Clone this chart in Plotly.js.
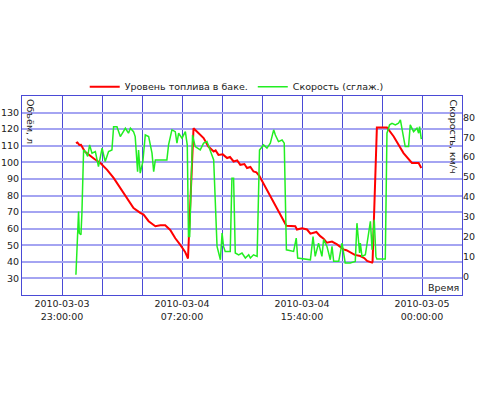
<!DOCTYPE html>
<html>
<head>
<meta charset="utf-8">
<script src="https://cdn.plot.ly/plotly-3.0.1.min.js"></script>
<style>html,body{margin:0;padding:0;background:#fff;}#chart{width:480px;height:400px;}</style>
</head>
<body>
<div id="chart"></div>
<script>
var fuelTime = [
'2010-03-03 23:58','2010-03-04 00:04','2010-03-04 00:12','2010-03-04 00:19','2010-03-04 00:35','2010-03-04 00:51',
'2010-03-04 01:15','2010-03-04 01:40','2010-03-04 02:08','2010-03-04 02:35','2010-03-04 03:03','2010-03-04 03:31',
'2010-03-04 03:58','2010-03-04 04:26','2010-03-04 04:40','2010-03-04 05:01','2010-03-04 05:29','2010-03-04 05:50',
'2010-03-04 06:10','2010-03-04 06:31','2010-03-04 06:52','2010-03-04 07:13','2010-03-04 07:27','2010-03-04 07:33',
'2010-03-04 07:45','2010-03-04 08:08','2010-03-04 08:50','2010-03-04 09:10','2010-03-04 09:32','2010-03-04 09:40',
'2010-03-04 09:52','2010-03-04 10:10','2010-03-04 10:28','2010-03-04 10:40','2010-03-04 10:55','2010-03-04 11:10',
'2010-03-04 11:23','2010-03-04 11:40','2010-03-04 11:51','2010-03-04 12:05','2010-03-04 12:18','2010-03-04 12:30',
'2010-03-04 12:42','2010-03-04 13:28','2010-03-04 14:02','2010-03-04 14:35','2010-03-04 15:12','2010-03-04 15:19',
'2010-03-04 15:40','2010-03-04 16:01','2010-03-04 16:15','2010-03-04 16:28','2010-03-04 16:40','2010-03-04 16:56',
'2010-03-04 17:10','2010-03-04 17:24','2010-03-04 17:45','2010-03-04 18:06','2010-03-04 18:20','2010-03-04 18:33',
'2010-03-04 18:45','2010-03-04 19:01','2010-03-04 19:20','2010-03-04 19:43','2010-03-04 20:00','2010-03-04 20:11',
'2010-03-04 20:32','2010-03-04 20:34','2010-03-04 20:52','2010-03-04 21:34','2010-03-04 22:02','2010-03-04 22:43',
'2010-03-04 23:00','2010-03-04 23:18','2010-03-04 23:46','2010-03-04 23:57'
];
var fuelLevel = [
111.6,112.0,110.5,110.6,106.5,104.6,
102.0,99.6,95.5,90.6,84.5,78.5,
72.5,69.5,68.5,64.5,61.5,62.0,
62.0,59.2,54.2,50.2,47.2,46.0,
42.0,120.6,114.6,109.5,106.5,107.2,
104.5,104.8,102.6,103.2,100.5,101.2,
98.5,99.0,96.6,97.2,94.5,94.0,
91.9,79.5,70.4,61.8,61.5,59.5,
60.2,59.5,57.0,57.5,58.0,55.5,
54.0,51.5,52.2,50.5,49.0,47.5,
47.0,45.5,44.2,43.5,42.2,40.5,
39.5,40.0,121.0,121.0,115.6,105.6,
102.5,99.6,99.6,96.6
];
var speedTime = [
'2010-03-03 23:58','2010-03-04 00:02','2010-03-04 00:09','2010-03-04 00:12','2010-03-04 00:19','2010-03-04 00:23',
'2010-03-04 00:30','2010-03-04 00:37','2010-03-04 00:47','2010-03-04 00:55','2010-03-04 01:05','2010-03-04 01:19',
'2010-03-04 01:32','2010-03-04 01:47','2010-03-04 02:00','2010-03-04 02:14','2010-03-04 02:28','2010-03-04 02:35',
'2010-03-04 02:49','2010-03-04 03:03','2010-03-04 03:24','2010-03-04 03:37','2010-03-04 03:45','2010-03-04 03:58',
'2010-03-04 04:05','2010-03-04 04:15','2010-03-04 04:19','2010-03-04 04:26','2010-03-04 04:37','2010-03-04 04:47',
'2010-03-04 05:01','2010-03-04 05:15','2010-03-04 05:22','2010-03-04 05:29','2010-03-04 05:50','2010-03-04 06:17',
'2010-03-04 06:24','2010-03-04 06:38','2010-03-04 06:52','2010-03-04 06:59','2010-03-04 07:06','2010-03-04 07:20',
'2010-03-04 07:34','2010-03-04 07:42','2010-03-04 07:47','2010-03-04 07:52','2010-03-04 08:04','2010-03-04 08:15',
'2010-03-04 08:36','2010-03-04 08:50','2010-03-04 09:04','2010-03-04 09:18','2010-03-04 09:32','2010-03-04 09:46',
'2010-03-04 10:00','2010-03-04 10:07','2010-03-04 10:13','2010-03-04 10:20','2010-03-04 10:41','2010-03-04 10:48',
'2010-03-04 10:55','2010-03-04 11:02','2010-03-04 11:16','2010-03-04 11:30','2010-03-04 11:44','2010-03-04 11:58',
'2010-03-04 12:05','2010-03-04 12:18','2010-03-04 12:33','2010-03-04 12:43','2010-03-04 13:00','2010-03-04 13:14',
'2010-03-04 13:28','2010-03-04 13:42','2010-03-04 13:49','2010-03-04 14:02','2010-03-04 14:17','2010-03-04 14:26',
'2010-03-04 14:35','2010-03-04 15:05','2010-03-04 15:16','2010-03-04 15:22','2010-03-04 15:47','2010-03-04 16:15',
'2010-03-04 16:26','2010-03-04 16:35','2010-03-04 16:49','2010-03-04 17:03','2010-03-04 17:10','2010-03-04 17:24',
'2010-03-04 17:38','2010-03-04 17:45','2010-03-04 17:52','2010-03-04 18:13','2010-03-04 18:27','2010-03-04 18:40',
'2010-03-04 19:01','2010-03-04 19:22','2010-03-04 19:29','2010-03-04 19:40','2010-03-04 19:43','2010-03-04 19:50',
'2010-03-04 20:04','2010-03-04 20:13','2010-03-04 20:25','2010-03-04 20:32','2010-03-04 20:41','2010-03-04 20:48',
'2010-03-04 20:52','2010-03-04 21:27','2010-03-04 21:34','2010-03-04 21:45','2010-03-04 21:55','2010-03-04 22:09',
'2010-03-04 22:22','2010-03-04 22:30','2010-03-04 22:37','2010-03-04 22:50','2010-03-04 23:04','2010-03-04 23:11',
'2010-03-04 23:25','2010-03-04 23:39','2010-03-04 23:46','2010-03-04 23:50','2010-03-04 23:57'
];
var speedValue = [
0.9,10,32.7,21.8,21,31.9,
63.6,62.8,60.3,66.1,62,62.8,
55.2,64.5,57.8,62.8,63.6,75.3,
75.3,70.3,74.5,72,74.5,72.8,
70.3,52.7,63.6,51.9,57.8,71.1,
70.3,62,52.7,58.6,58.6,58.6,
66.1,73.7,72.8,67,72,69.5,
72.8,66,20.1,20.1,71.1,65.3,
63.6,67,67.8,63.6,58.6,15.1,
8.4,21.8,15.1,12.6,12.6,49.4,
49.4,11.8,10.9,11.8,9.3,10.9,
9.3,10.9,10.1,63.6,66.1,64.5,
67,73.7,71.1,67.8,68.6,67,
13.4,12.6,19.3,9.3,8.8,8.4,
20.1,10.1,16.8,10.1,18.5,15.1,
8.4,15.1,7.6,7.6,16.8,6.8,
6.8,7.6,26.8,11.8,16.8,10.1,
10.9,18.5,27.7,13.4,28.5,10.1,
8.8,8.8,72,76.2,77,76.2,
77,78.7,73.7,65.3,65.3,76.2,
72.8,74.5,72,75.3,69
];
var gridTimes = [
'2010-03-03 20:13:20','2010-03-03 23:00:00','2010-03-04 01:46:40','2010-03-04 04:33:20',
'2010-03-04 07:20:00','2010-03-04 10:06:40','2010-03-04 12:53:20','2010-03-04 15:40:00',
'2010-03-04 18:26:40','2010-03-04 21:13:20','2010-03-05 00:00:00','2010-03-05 02:46:40'
];
var gridLabels = ['', '2010-03-03<br>23:00:00', '', '', '2010-03-04<br>07:20:00', '', '',
'2010-03-04<br>15:40:00', '', '', '2010-03-05<br>00:00:00', ''];
var fuelTicks = [30,40,50,60,70,80,90,100,110,120,130];
var speedTicks = [0,10,20,30,40,50,60,70,80];

var font = {family: 'DejaVu Sans, sans-serif', size: 9.5, color: '#222'};
var traces = [
  {x: fuelTime, y: fuelLevel, type: 'scatter', mode: 'lines', name: 'Уровень топлива в баке.',
   line: {color: '#ff0000', width: 2}, yaxis: 'y'},
  {x: speedTime, y: speedValue, type: 'scatter', mode: 'lines', name: 'Скорость (сглаж.)',
   line: {color: '#22ee22', width: 1.5}, yaxis: 'y2'}
];
var layout = {
  width: 480, height: 400,
  margin: {l: 22, r: 18, t: 96, b: 105, pad: 0},
  paper_bgcolor: '#fff', plot_bgcolor: '#fff',
  font: font,
  showlegend: true,
  legend: {orientation: 'h', x: 0.488, xanchor: 'center', y: 1.047, yanchor: 'middle',
           font: font, bgcolor: 'rgba(0,0,0,0)'},
  xaxis: {type: 'date', range: ['2010-03-03 20:13:20', '2010-03-05 02:46:40'],
          tickmode: 'array', tickvals: gridTimes, ticktext: gridLabels,
          showgrid: true, gridcolor: '#4a4ad6', gridwidth: 1,
          showline: true, linecolor: '#4a4ad6', linewidth: 1, mirror: true,
          ticks: '', zeroline: false, tickfont: font, fixedrange: true},
  yaxis: {range: [20, 140], tickmode: 'array', tickvals: fuelTicks,
          showgrid: true, gridcolor: '#a4a4f2', gridwidth: 2,
          showline: true, linecolor: '#4a4ad6', linewidth: 1, mirror: true,
          ticks: '', zeroline: false, tickfont: font},
  yaxis2: {range: [-9.3, 90.7], overlaying: 'y', side: 'right', tickmode: 'array', tickvals: speedTicks,
           showgrid: false, showline: false, ticks: '', zeroline: false, tickfont: font},
  annotations: [
    {text: 'Объём, л', xref: 'paper', yref: 'paper', x: 0, y: 1, xanchor: 'left', yanchor: 'top',
     xshift: 1, yshift: -1, textangle: 90, showarrow: false, font: font},
    {text: 'Скорость, км/ч', xref: 'paper', yref: 'paper', x: 1, y: 1, xanchor: 'right', yanchor: 'top',
     xshift: -1, yshift: -1, textangle: 90, showarrow: false, font: font},
    {text: 'Время', xref: 'paper', yref: 'paper', x: 1, y: 0, xanchor: 'right', yanchor: 'bottom',
     xshift: -1, yshift: 0, showarrow: false, font: font}
  ]
};
Plotly.newPlot('chart', traces, layout, {displayModeBar: false, staticPlot: true});
</script>
</body>
</html>
